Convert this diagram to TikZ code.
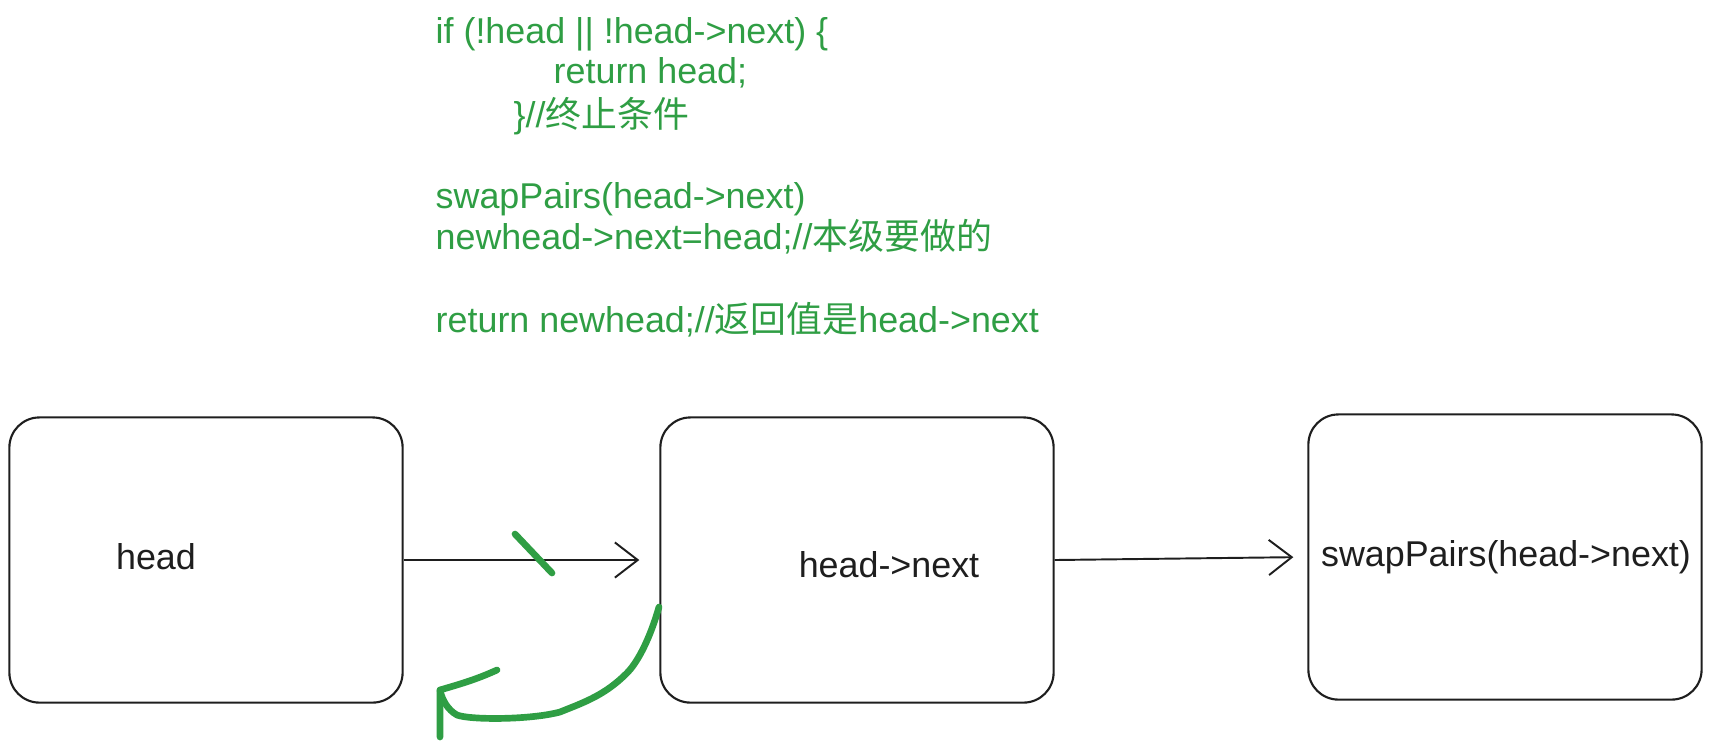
\documentclass[tikz,border=0pt]{standalone}
\usepackage{fontspec}
\setmainfont{Liberation Sans}
\newfontfamily\cjk{Noto Sans CJK SC}
\usetikzlibrary{arrows.meta}
\definecolor{code-green}{HTML}{2F9E44}
\definecolor{ink}{HTML}{1E1E1E}

\begin{document}
\begin{tikzpicture}[x=0.01cm, y=-0.01cm,
      every node/.style={inner sep=0pt},
      listbox/.style={draw=ink, line width=0.6pt, rounded corners=0.3cm,
                      minimum width=3.93cm, minimum height=2.85cm},
      boxtext/.style={font=\fontsize{10.2}{12}\selectfont, text=ink},
      codeline/.style={anchor=base west, font=\fontsize{10.2}{12}\selectfont, text=code-green},
      link/.style={draw=ink, line width=0.55pt, -{Straight Barb[length=6.5pt, width=10pt]}},
      pen/.style={draw=code-green, line width=1.9pt, line cap=round, line join=round}]
    \useasboundingbox (0,0) rectangle (1711,753);

    % the three list boxes
    \node[listbox] (B1) at (206,560) {};
    \node[listbox] (B2) at (857,560) {};
    \node[listbox] (B3) at (1505,557) {};
    \node[boxtext] (T1) at (156,557) {head};
    \node[boxtext] (T2) at (889,565) {head->next};
    \node[boxtext] (T3) at (1506,557) {swapPairs(head->next)};

    % next pointers
    \draw[link, shorten >=0.2cm] (B1.east) -- (B2.west);
    \draw[link, shorten >=0.14cm] (B2.east) -- (B3.west);

    % recursion code, line by line
    \node[codeline] (C1) at (435,43)  {if (!head || !head->next) \{};
    \node[codeline] (C2) at (553,83)  {return head;};
    \node[codeline] (C3) at (513,127) {\}//{\cjk 终止条件}};
    \node[codeline] (C4) at (435,208) {swapPairs(head->next)};
    \node[codeline] (C5) at (435,249) {newhead->next=head;//{\cjk 本级要做的}};
    \node[codeline] (C6) at (435,332) {return newhead;//{\cjk 返回值是}head->next};

    % green marks: cut link, pointer turned back
    \coordinate (cutA) at (515,534);
    \coordinate (cutB) at (552,573);
    \draw[pen] (cutA) -- (cutB);
    \coordinate (backTip) at (440,690);
    \draw[pen] (659,607) .. controls (648,645) and (635,665) .. (627,673)
               .. controls (605,695) and (585,702) .. (560,712)
               .. controls (530,720) and (470,720) .. (457,715)
               .. controls (448,710) and (442,700) .. (backTip);
    \draw[pen] (497,670) .. controls (475,680) and (460,684) .. (backTip) -- (440,737);
\end{tikzpicture}
\end{document}
